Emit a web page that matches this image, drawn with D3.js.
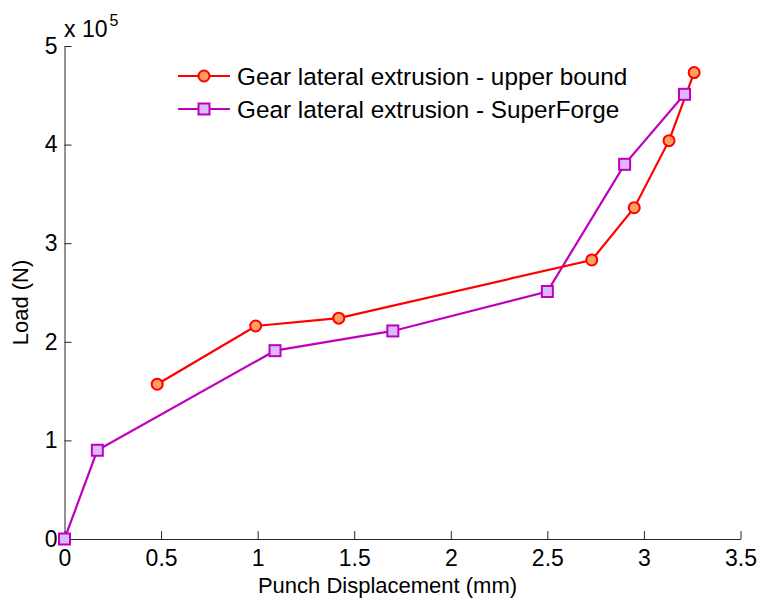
<!DOCTYPE html>
<html><head><meta charset="utf-8">
<script src="https://cdn.jsdelivr.net/npm/d3@7/dist/d3.min.js"></script>
<style>body{margin:0;background:#fff}svg{display:block}text{font-family:"Liberation Sans",Arial,sans-serif;fill:#000}</style>
</head><body><svg id="c" width="761" height="605"></svg>
<script>
const upperX = [0.48, 0.99, 1.42, 2.73, 2.95, 3.13, 3.26];
const upperY = [1.57, 2.16, 2.24, 2.83, 3.36, 4.04, 4.73];
const sfX = [0, 0.17, 1.09, 1.70, 2.50, 2.90, 3.21];
const sfY = [0, 0.90, 1.91, 2.11, 2.51, 3.80, 4.51];
const xTicks = [0, 0.5, 1, 1.5, 2, 2.5, 3, 3.5];
const xTickLabels = ["0","0.5","1","1.5","2","2.5","3","3.5"];
const yTicks = [0,1,2,3,4,5];
const seriesNames = ["Gear lateral extrusion - upper bound","Gear lateral extrusion - SuperForge"];

const svg = d3.select("#c");
const L=64.5, R=740.5, T=46, B=539;
const x = d3.scaleLinear().domain([0,3.5]).range([L,R]);
const y = d3.scaleLinear().domain([0,5]).range([B,T]);
const fs = 22, tfs = 23;

// axes
const xa = svg.append("g").attr("transform",`translate(0,${B})`)
  .call(d3.axisBottom(x).tickValues(xTicks).tickFormat((d,i)=>xTickLabels[i]).tickSizeInner(-8).tickSizeOuter(0).tickPadding(11));
const ya = svg.append("g").attr("transform",`translate(${L},0)`)
  .call(d3.axisLeft(y).tickValues(yTicks).tickFormat(d3.format("d")).tickSizeInner(-7).tickSizeOuter(0).tickPadding(7));
[xa,ya].forEach(a=>{a.selectAll("path,line").attr("stroke","#262626").attr("stroke-width",1);
  a.selectAll("text").attr("font-size",tfs).attr("font-family","Liberation Sans, Arial, sans-serif").attr("fill","#000");});
xa.selectAll("text").attr("dy","0.71em");

// exponent label
const ex = svg.append("text").attr("x",64).attr("y",37).attr("font-size",23);
ex.append("tspan").text("x 10");
ex.append("tspan").attr("font-size",16).attr("dy",-11).attr("dx",2).text("5");

// axis labels
svg.append("text").attr("x",387.5).attr("y",593).attr("text-anchor","middle").attr("font-size",fs).text("Punch Displacement (mm)");
svg.append("text").attr("transform",`translate(28,${(T+B)/2 + 10}) rotate(-90)`).attr("text-anchor","middle").attr("font-size",fs).text("Load (N)");

const line = d3.line().x(d=>x(d[0])).y(d=>y(d[1]));
const up = upperX.map((v,i)=>[v,upperY[i]]);
const sf = sfX.map((v,i)=>[v,sfY[i]]);
const red="#ff0000", redFill="#ffa060", pur="#bf00bf", purFill="#dcb8ff";

svg.append("path").datum(sf).attr("d",line).attr("fill","none").attr("stroke",pur).attr("stroke-width",2.2);
svg.append("path").datum(up).attr("d",line).attr("fill","none").attr("stroke",red).attr("stroke-width",2.2);
svg.selectAll(".sq").data(sf).enter().append("rect")
  .attr("x",d=>x(d[0])-5.5).attr("y",d=>y(d[1])-5.5).attr("width",11).attr("height",11)
  .attr("fill",purFill).attr("stroke",pur).attr("stroke-width",2);
svg.selectAll(".ci").data(up).enter().append("circle")
  .attr("cx",d=>x(d[0])).attr("cy",d=>y(d[1])).attr("r",5.5)
  .attr("fill",redFill).attr("stroke",red).attr("stroke-width",2);

// legend
const lg = svg.append("g");
const rows=[{c:red,f:redFill,m:"c",yy:76},{c:pur,f:purFill,m:"s",yy:109}];
rows.forEach((r,i)=>{
  lg.append("line").attr("x1",178).attr("x2",230).attr("y1",r.yy).attr("y2",r.yy).attr("stroke",r.c).attr("stroke-width",2.2);
  if(r.m==="c") lg.append("circle").attr("cx",204).attr("cy",r.yy).attr("r",5.5).attr("fill",r.f).attr("stroke",r.c).attr("stroke-width",2);
  else lg.append("rect").attr("x",198.5).attr("y",r.yy-5.5).attr("width",11).attr("height",11).attr("fill",r.f).attr("stroke",r.c).attr("stroke-width",2);
  lg.append("text").attr("x",237).attr("y",r.yy).attr("dy","0.35em").attr("font-size",24.3).text(seriesNames[i]);
});
</script></body></html>
